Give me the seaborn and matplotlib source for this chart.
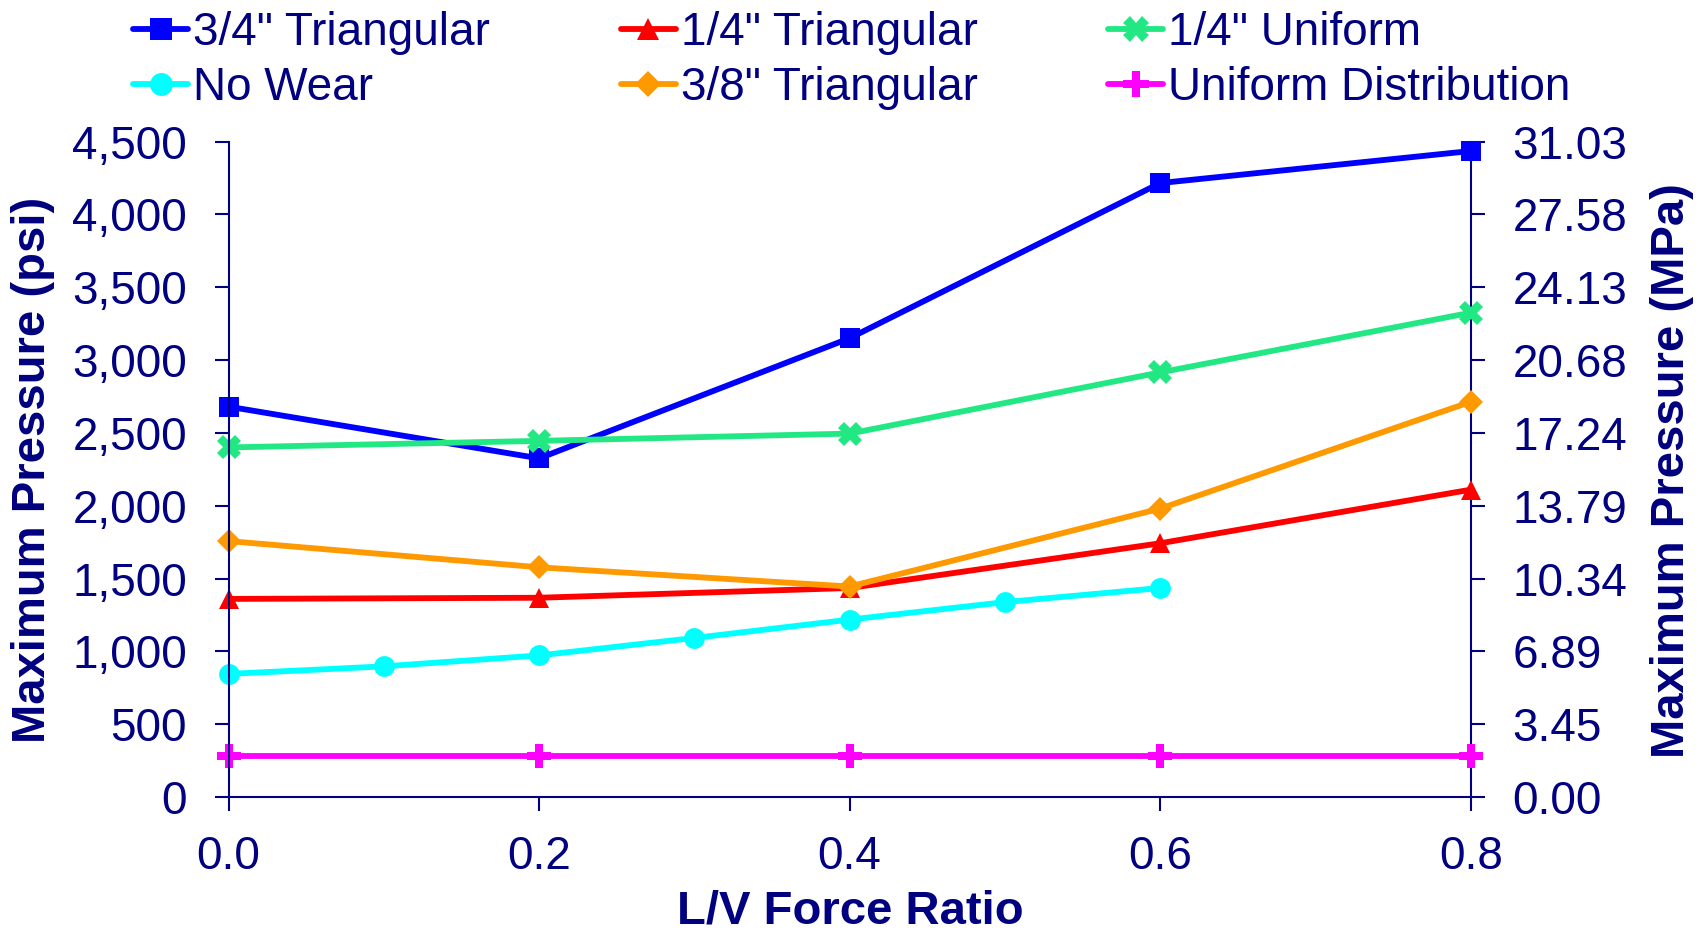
import numpy as np
import pandas as pd
import matplotlib
matplotlib.use("Agg")
import matplotlib.pyplot as plt
import seaborn as sns
from matplotlib.ticker import FuncFormatter, FixedLocator

# ---- data ----
lv_ratio = [0.0, 0.2, 0.4, 0.6, 0.8]
lv_ratio_nowear = [0.0, 0.1, 0.2, 0.3, 0.4, 0.5, 0.6]
tri_34 = [2680, 2325, 3150, 4215, 4435]
tri_14 = [1360, 1368, 1435, 1742, 2110]
uni_14 = [2400, 2445, 2495, 2915, 3325]
no_wear = [845, 897, 972, 1092, 1218, 1338, 1435]
tri_38 = [1757, 1577, 1445, 1980, 2713]
uniform_dist = [283, 283, 283, 283, 283]

series_names = ['3/4" Triangular', '1/4" Triangular', '1/4" Uniform',
                'No Wear', '3/8" Triangular', 'Uniform Distribution']
psi_ticks = [0, 500, 1000, 1500, 2000, 2500, 3000, 3500, 4000, 4500]
x_ticks = [0.0, 0.2, 0.4, 0.6, 0.8]
PSI_TO_MPA = 0.00689476

# ---- style ----
sns.set_style("white")
plt.rcParams['font.family'] = ['Liberation Sans', 'DejaVu Sans']
NAVY = "#000080"
TICK_FS = 33

fig = plt.figure(figsize=(17.07, 9.30), dpi=100)
ax = fig.add_axes([0.1339, 0.1430, 0.7277, 0.7048])

specs = [
    (series_names[0], lv_ratio, tri_34, "#0000FF", "s", 14),
    (series_names[1], lv_ratio, tri_14, "#FF0000", "^", 15),
    (series_names[2], lv_ratio, uni_14, "#22E884", "X", 17),
    (series_names[3], lv_ratio_nowear, no_wear, "#00FFFF", "o", 15),
    (series_names[4], lv_ratio, tri_38, "#FF9900", "D", 12),
    (series_names[5], lv_ratio, uniform_dist, "#FF00FF", "P", 17),
]

handles = {}
for name, xs, ys, col, mk, ms in specs:
    df = pd.DataFrame({"x": xs, "y": ys})
    sns.lineplot(data=df, x="x", y="y", ax=ax, color=col, marker=mk,
                 markersize=ms, linewidth=4.2, markeredgewidth=0,
                 markerfacecolor=col, clip_on=False, label=name, legend=False)
    handles[name] = ax.lines[-1]

ax.set_xlim(0, 0.8)
ax.set_ylim(0, 4500)
ax.xaxis.set_major_locator(FixedLocator(x_ticks))
ax.yaxis.set_major_locator(FixedLocator(psi_ticks))
ax.xaxis.set_major_formatter(FuncFormatter(lambda v, p: f"{v:.1f}"))
ax.yaxis.set_major_formatter(FuncFormatter(lambda v, p: f"{int(v):,}"))
ax.set_xlabel("")
ax.set_ylabel("")

for side in ["top", "right"]:
    ax.spines[side].set_visible(False)
for side in ["left", "bottom"]:
    ax.spines[side].set_color(NAVY)
    ax.spines[side].set_linewidth(1.5)

ax.tick_params(axis="both", direction="out", length=10, width=1.5,
               color=NAVY, labelcolor=NAVY, labelsize=TICK_FS)
ax.tick_params(axis="y", pad=20, left=True)
ax.tick_params(axis="x", pad=17, bottom=True)

ax2 = ax.twinx()
ax2.set_ylim(0, 4500)
ax2.yaxis.set_major_locator(FixedLocator(psi_ticks))
ax2.yaxis.set_major_formatter(FuncFormatter(lambda v, p: f"{v * PSI_TO_MPA:.2f}"))
for side in ["top", "left", "bottom"]:
    ax2.spines[side].set_visible(False)
ax2.spines["right"].set_color(NAVY)
ax2.spines["right"].set_linewidth(1.5)
ax2.tick_params(axis="y", direction="out", length=10, width=1.5, color=NAVY,
                labelcolor=NAVY, labelsize=TICK_FS, pad=20, right=True)
ax2.grid(False)
ax.grid(False)
ax.set_zorder(ax2.get_zorder() + 1)
ax.patch.set_visible(False)

# axis titles
fig.text(33 / 1707, 1 - 470 / 930, "Maximum Pressure (psi)", rotation=90,
         ha="center", va="center", fontsize=34, fontweight="bold", color=NAVY)
fig.text(1672 / 1707, 1 - 471 / 930, "Maximum Pressure (MPa)", rotation=90,
         ha="center", va="center", fontsize=34, fontweight="bold", color=NAVY)
fig.text(850 / 1707, 1 - 923 / 930, "L/V Force Ratio", ha="center",
         va="baseline", fontsize=34, fontweight="bold", color=NAVY)

# legend (column-major fill)
order = ['3/4" Triangular', 'No Wear', '1/4" Triangular', '3/8" Triangular',
         '1/4" Uniform', 'Uniform Distribution']
leg = fig.legend([handles[n] for n in order], order, ncol=3,
                 loc="upper left", bbox_to_anchor=(133 / 1707, 1 - 11 / 930),
                 frameon=False, fontsize=33, handlelength=1.2,
                 handletextpad=0.11, columnspacing=2.85, labelspacing=0.24,
                 borderpad=0, borderaxespad=0, markerscale=1.1)
for t in leg.get_texts():
    t.set_color(NAVY)

fig.savefig("out.png", dpi=100)
